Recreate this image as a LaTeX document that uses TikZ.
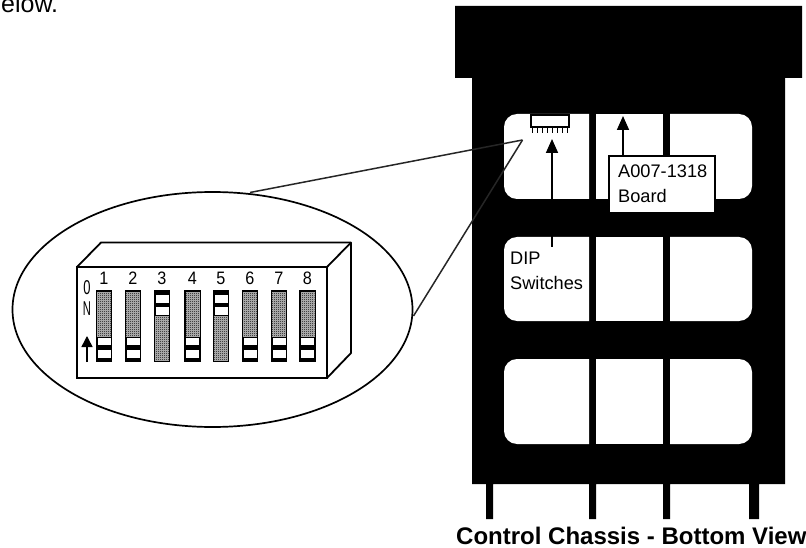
\documentclass[tikz,border=0pt]{standalone}
\usepackage{fontspec}
\setmainfont{Liberation Sans}
\usetikzlibrary{patterns,arrows.meta,shapes.geometric}
\pgfdeclarepatternformonly{stip}{\pgfqpoint{0pt}{0pt}}{\pgfqpoint{2pt}{2pt}}{\pgfqpoint{2pt}{2pt}}{%
  \pgfpathrectangle{\pgfqpoint{0pt}{0pt}}{\pgfqpoint{1pt}{1pt}}%
  \pgfpathrectangle{\pgfqpoint{1pt}{1pt}}{\pgfqpoint{1pt}{1pt}}%
  \pgfusepath{fill}}
\newcommand{\winrow}[2]{%
  \fill[white] (504,#1) [rounded corners=13pt] -- (504,#2) [sharp corners] -- (589,#2) -- (589,#1) [rounded corners=13pt] -- cycle;
  \fill[white] (596,#1) rectangle (663,#2);
  \fill[white] (670,#2) [rounded corners=13pt] -- (752,#2) -- (752,#1) [sharp corners] -- (670,#1) -- cycle;}
\newcommand{\swoff}[2]{%
  \node[swbody] (sw#1) at (#2,326) {};
  \fill[gray!50] (#2-7,291.5) rectangle (#2+7,337);
  \fill[pattern=stip] (#2-7,291.5) rectangle (#2+7,337);
  \fill[white] (#2-6.5,338) rectangle (#2+6.5,345);
  \fill[white] (#2-6.5,350) rectangle (#2+6.5,358);
  \node[digit] (d#1) at (#2,278) {#1};}
\newcommand{\swon}[2]{%
  \node[swbody] (sw#1) at (#2,326) {};
  \fill[white] (#2-6.5,295) rectangle (#2+6.5,303);
  \fill[white] (#2-6.5,307) rectangle (#2+6.5,315);
  \fill[gray!50] (#2-7,316) rectangle (#2+7,360.5);
  \fill[pattern=stip] (#2-7,316) rectangle (#2+7,360.5);
  \node[digit] (d#1) at (#2,278) {#1};}
\tikzset{
  ln/.style={draw=black,line width=1.8pt},
  call/.style={draw=black!85,line width=1.5pt},
  swbody/.style={draw=black,line width=1.6pt,fill=black,minimum width=15pt,minimum height=71pt,inner sep=0pt},
  digit/.style={font=\fontsize{18}{18}\selectfont,inner sep=0pt,xscale=0.9},
  lbl/.style={font=\fontsize{18.2}{25}\selectfont,inner sep=0pt,align=left},
  tip/.style={-{Triangle[length=14pt,width=12pt]},line width=1.7pt},
}
\begin{document}
\begin{tikzpicture}[x=1pt,y=-1pt]
\useasboundingbox (0,0) rectangle (806,548);
% chassis
\fill[black] (455,6) -- (802,6) -- (802,78) -- (785,78) -- (785,484) -- (759,484) -- (759,519) -- (749,519) -- (749,484)
  -- (670,484) -- (670,519) -- (663,519) -- (663,484) -- (596,484) -- (596,519) -- (589,519) -- (589,484)
  -- (493,484) -- (493,519) -- (486,519) -- (486,484) -- (472,484) -- (472,78) -- (455,78) -- cycle;
\winrow{114}{199}
\winrow{237}{321}
\winrow{359}{444}
% small DIP block
\node[draw=black,line width=1.7pt,fill=white,minimum width=38pt,minimum height=12pt,inner sep=0pt] (mini) at (550,121) {};
\foreach \i in {0,...,7} \draw[black,line width=1.5pt] (532.5+\i*5,127) -- (532.5+\i*5,133);
% callout targets
\coordinate (tipa) at (522.5,140);
\coordinate (tipb) at (552,139);
\coordinate (tipc) at (623,116);
% labels
\node[lbl,anchor=north west] (diplabel) at (510,252) {DIP\\Switches};
\node[draw=black,line width=1.7pt,fill=white,minimum width=106pt,minimum height=57pt,inner sep=0pt] (board) at (662,184.5) {};
\node[lbl,anchor=north west] (boardtext) at (618,165) {A007-1318\\Board};
\draw[tip] (552,247) -- (tipb);
\draw[tip] (board.north -| tipc) -- (tipc);
% lens
\node[draw=black,line width=1.7pt,fill=none,minimum width=400pt,minimum height=235pt,inner sep=0pt,shape=ellipse] (lens) at (212.5,309.5) {};
\draw[call] (250,192.5) -- (tipa);
\draw[call] (413.5,316) -- (tipa);
% DIP body
\draw[ln,line join=bevel] (77,267) -- (101,242.5) -- (351,242.5) -- (351,353) -- (327,378);
\draw[ln] (327,267) -- (351,242.5);
\node[draw=black,line width=1.8pt,minimum width=250pt,minimum height=111pt,inner sep=0pt] (front) at (202,322.5) {};
\swoff{1}{104}
\swoff{2}{133}
\swon{3}{162}
\swoff{4}{192.5}
\swon{5}{221}
\swoff{6}{250}
\swoff{7}{279}
\swoff{8}{307.5}
\node[digit,font=\fontsize{20}{20}\selectfont,xscale=0.72] (onO) at (87,287.5) {0};
\node[digit,font=\fontsize{20}{20}\selectfont,xscale=0.62] (onN) at (87,309) {N};
\coordinate (ontip) at (87,336);
\coordinate (ontail) at (87,362);
\draw[-{Triangle[length=11pt,width=11pt]},line width=1.5pt] (ontail) -- (ontip);
% texts
\node[font=\fontsize{25}{25}\selectfont,inner sep=0pt,anchor=base west] (top) at (1,13) {elow.};
\node[font=\bfseries\fontsize{24}{24}\selectfont,inner sep=0pt,anchor=base west] (title) at (456,544) {Control Chassis - Bottom View};
\end{tikzpicture}
\end{document}
